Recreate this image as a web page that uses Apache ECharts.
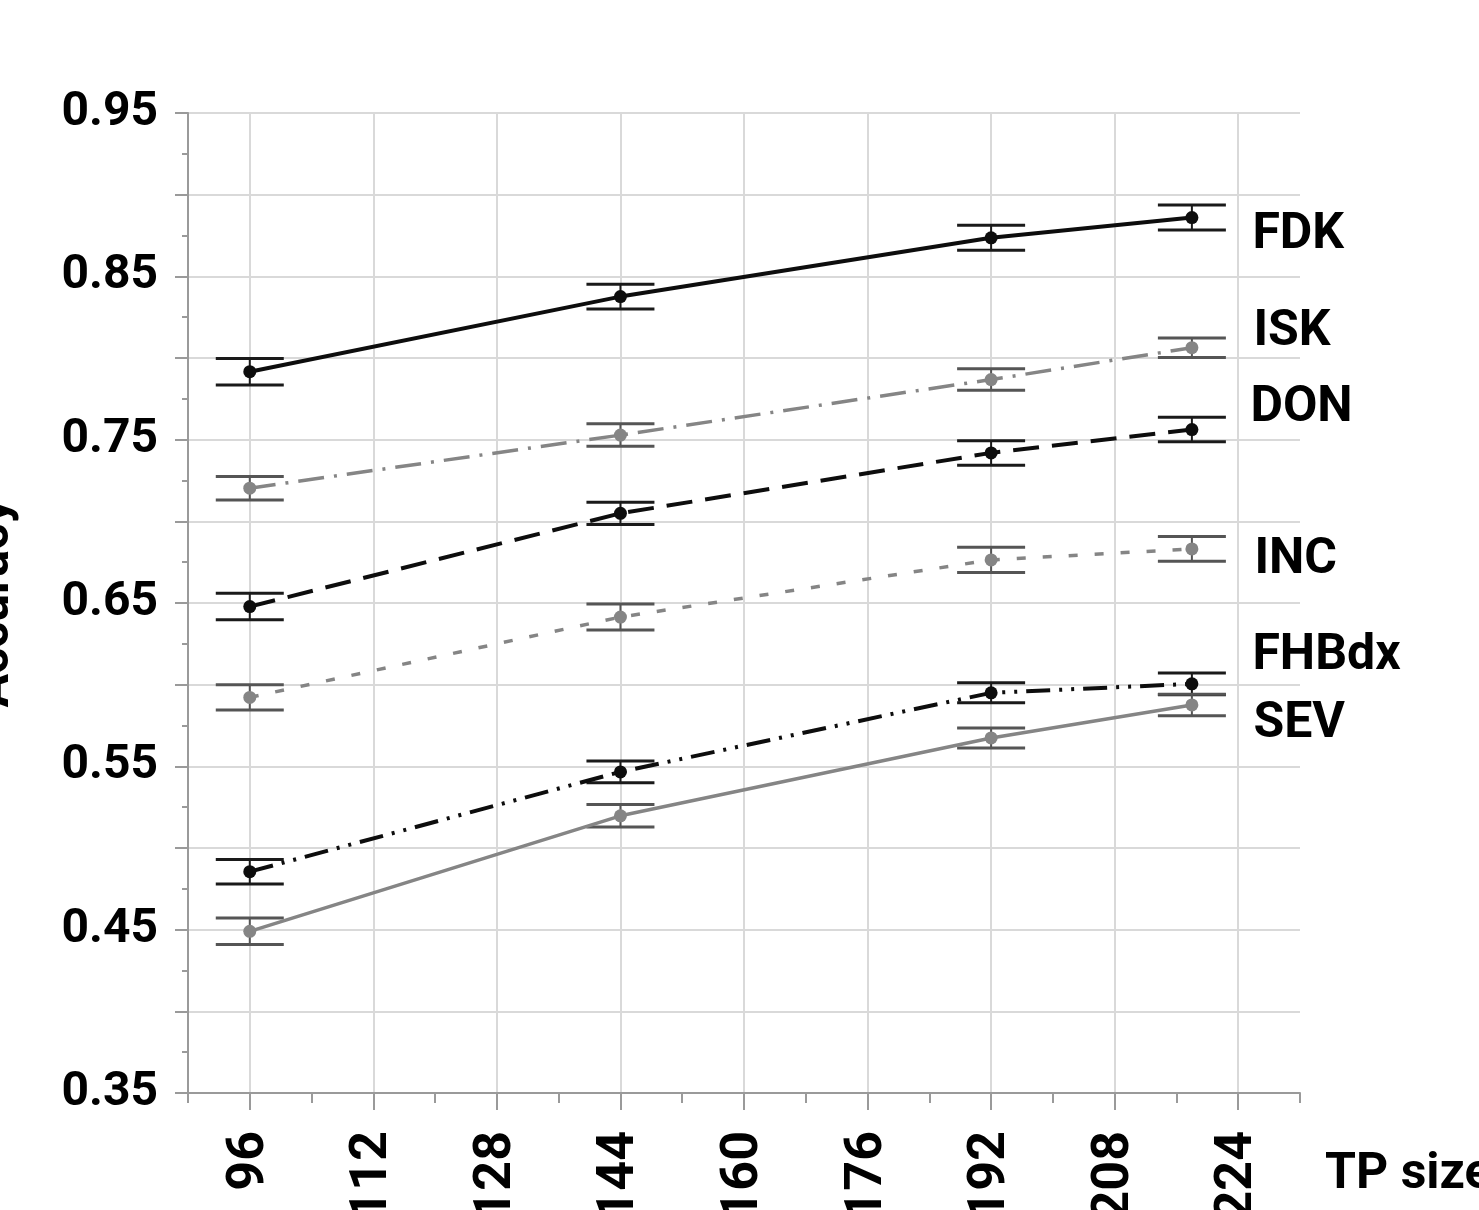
<!DOCTYPE html>
<html>
<head>
<meta charset="utf-8">
<script src="https://cdn.jsdelivr.net/npm/echarts@6/dist/echarts.min.js"></script>
<style>
  html, body { margin: 0; padding: 0; background: #ffffff; }
  #chart { width: 1479px; height: 1210px; }
</style>
</head>
<body>
<div id="chart"></div>
<script>
// Training-pool sizes at which each classifier was evaluated
const tpSizes = [96, 144, 192, 218];

// Axis tick labels
const xTickLabels = [96, 112, 128, 144, 160, 176, 192, 208, 224];
const yTickLabels = [0.35, 0.45, 0.55, 0.65, 0.75, 0.85, 0.95];

// Mean accuracy and half-width of the error bar per method
const fdkAcc   = [0.7916, 0.8376, 0.8736, 0.8860];
const fdkErr   = [0.0081, 0.0076, 0.0077, 0.0077];
const iskAcc   = [0.7203, 0.7528, 0.7868, 0.8063];
const iskErr   = [0.0072, 0.0069, 0.0066, 0.0060];
const donAcc   = [0.6478, 0.7049, 0.7419, 0.7562];
const donErr   = [0.0081, 0.0068, 0.0075, 0.0075];
const incAcc   = [0.5922, 0.6414, 0.6764, 0.6831];
const incErr   = [0.0077, 0.0080, 0.0077, 0.0076];
const fhbdxAcc = [0.4855, 0.5466, 0.5950, 0.6005];
const fhbdxErr = [0.0075, 0.0067, 0.0061, 0.0066];
const sevAcc   = [0.4490, 0.5197, 0.5674, 0.5876];
const sevErr   = [0.0081, 0.0069, 0.0061, 0.0066];

const BLACK = '#0d0d0d';
const GRAY = '#858585';
const FONT = 'Roboto';

// Drawing style per method (line pattern, colours, end-label placement)
const methods = [
  { name: 'FDK',   acc: fdkAcc,   err: fdkErr,   color: BLACK, cap: '#1a1a1a', width: 4,   dash: 'solid',               labelOffset: [54, 18] },
  { name: 'ISK',   acc: iskAcc,   err: iskErr,   color: GRAY,  cap: '#555555', width: 3.5, dash: [26, 10, 3, 10],       labelOffset: [55, -15] },
  { name: 'DON',   acc: donAcc,   err: donErr,   color: BLACK, cap: '#1a1a1a', width: 4,   dash: [26, 13],              labelOffset: [52, -21] },
  { name: 'INC',   acc: incAcc,   err: incErr,   color: GRAY,  cap: '#555555', width: 3.5, dash: [9, 17],               labelOffset: [56, 12] },
  { name: 'FHBdx', acc: fhbdxAcc, err: fhbdxErr, color: BLACK, cap: '#1a1a1a', width: 4,   dash: [24, 9, 3, 9, 3, 9],   labelOffset: [54, -27] },
  { name: 'SEV',   acc: sevAcc,   err: sevErr,   color: GRAY,  cap: '#555555', width: 3.5, dash: 'solid',               labelOffset: [55, 20] }
];

const labelText = { fontFamily: FONT, fontWeight: 'bold', fontSize: 50, color: '#000' };

function errorBarSeries(m) {
  return {
    type: 'custom',
    name: m.name + ' error',
    xAxisIndex: 0,
    yAxisIndex: 0,
    silent: true,
    z: 2,
    data: tpSizes.map((x, i) => [x, m.acc[i] - m.err[i], m.acc[i] + m.err[i]]),
    renderItem: function (params, api) {
      const x = api.value(0);
      const lo = api.coord([x, api.value(1)]);
      const hi = api.coord([x, api.value(2)]);
      const hw = 34;
      const capStyle = { stroke: m.cap, lineWidth: 3 };
      return {
        type: 'group',
        children: [
          { type: 'line', shape: { x1: hi[0], y1: hi[1], x2: lo[0], y2: lo[1] }, style: { stroke: m.cap, lineWidth: 2 } },
          { type: 'line', shape: { x1: hi[0] - hw, y1: hi[1], x2: hi[0] + hw, y2: hi[1] }, style: capStyle },
          { type: 'line', shape: { x1: lo[0] - hw, y1: lo[1], x2: lo[0] + hw, y2: lo[1] }, style: capStyle }
        ]
      };
    }
  };
}

function lineSeries(m) {
  const last = tpSizes.length - 1;
  return {
    type: 'line',
    name: m.name,
    xAxisIndex: 0,
    yAxisIndex: 0,
    z: 3,
    symbol: 'circle',
    symbolSize: 13,
    showAllSymbol: true,
    itemStyle: { color: m.color },
    lineStyle: { color: m.color, width: m.width, type: m.dash, cap: 'butt' },
    data: tpSizes.map((x, i) => i === last
      ? { value: [x, m.acc[i]], label: Object.assign({ show: true, position: 'right', distance: 0, offset: m.labelOffset, formatter: '{a}' }, labelText) }
      : { value: [x, m.acc[i]] })
  };
}

const series = [];
methods.forEach(m => series.push(errorBarSeries(m)));
methods.forEach(m => series.push(lineSeries(m)));

const axisGray = '#9a9a9a';

const chart = echarts.init(document.getElementById('chart'), null, { renderer: 'canvas' });
chart.setOption({
  animation: false,
  backgroundColor: '#ffffff',
  grid: { left: 188, right: 179, top: 113, bottom: 117, containLabel: false, outerBoundsMode: 'none' },
  xAxis: [
    {
      type: 'value',
      min: 88,
      max: 232,
      interval: 8,
      position: 'bottom',
      axisLine: { show: true, onZero: false, lineStyle: { color: axisGray, width: 2 } },
      axisTick: { show: true, length: 17, customValues: xTickLabels, lineStyle: { color: axisGray, width: 2 } },
      axisLabel: { show: true, customValues: xTickLabels, rotate: 90, margin: 38, fontFamily: FONT, fontWeight: 'bold', fontSize: 52, color: '#000' },
      splitLine: { show: true, lineStyle: { color: '#d9d9d9', width: 2 } }
    },
    {
      // unlabelled ticks every 8 units
      type: 'value',
      min: 88,
      max: 232,
      interval: 8,
      position: 'bottom',
      axisLine: { show: false, onZero: false },
      axisTick: { show: true, length: 10, lineStyle: { color: axisGray, width: 2 } },
      axisLabel: { show: false },
      splitLine: { show: false }
    },
    {
      // carries the axis title below the tick row
      type: 'value',
      min: 88,
      max: 232,
      position: 'bottom',
      offset: 82,
      name: 'TP size',
      nameLocation: 'end',
      nameGap: 25,
      nameTextStyle: { fontFamily: FONT, fontWeight: 'bold', fontSize: 50, color: '#000', align: 'left', verticalAlign: 'middle' },
      axisLine: { show: false, onZero: false },
      axisTick: { show: false },
      axisLabel: { show: false },
      splitLine: { show: false }
    }
  ],
  yAxis: {
    type: 'value',
    min: 0.35,
    max: 0.95,
    interval: 0.05,
    name: 'Accuracy',
    nameLocation: 'middle',
    nameRotate: 90,
    nameGap: 168,
    nameTextStyle: { fontFamily: FONT, fontWeight: 'bold', fontSize: 50, color: '#000' },
    axisLine: { show: true, onZero: false, lineStyle: { color: axisGray, width: 2 } },
    axisTick: { show: true, length: 13, lineStyle: { color: axisGray, width: 2 } },
    minorTick: { show: true, splitNumber: 2, length: 6, lineStyle: { color: axisGray, width: 2 } },
    axisLabel: {
      show: true,
      customValues: yTickLabels,
      margin: 30,
      fontFamily: FONT, fontWeight: 'bold', fontSize: 48, color: '#000',
      formatter: v => v.toFixed(2)
    },
    splitLine: { show: true, lineStyle: { color: '#d9d9d9', width: 2 } },
    minorSplitLine: { show: false }
  },
  series: series
});
</script>
</body>
</html>
